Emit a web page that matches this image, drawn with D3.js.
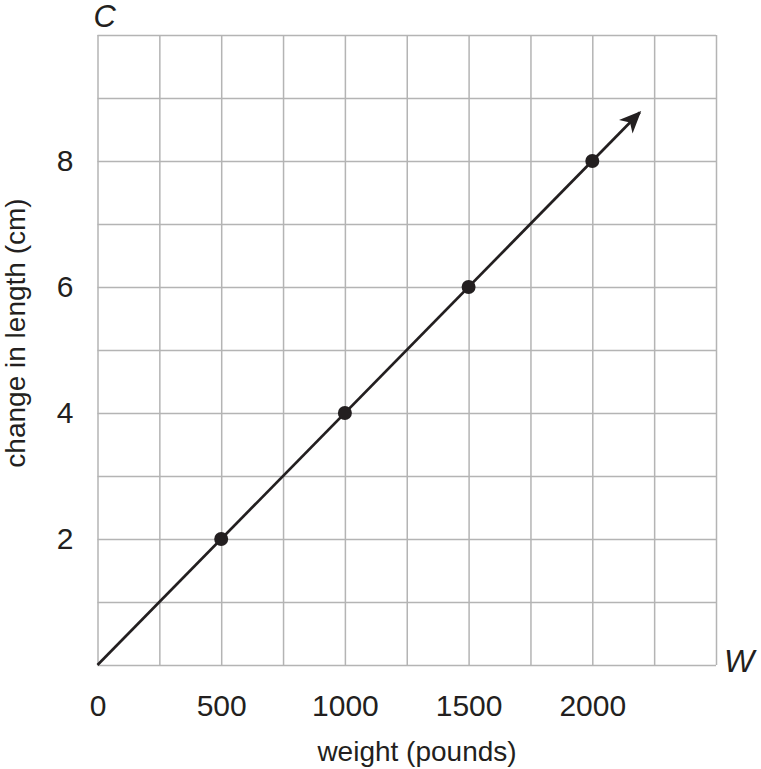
<!DOCTYPE html>
<html>
<head>
<meta charset="utf-8">
<script src="https://cdn.jsdelivr.net/npm/d3@7"></script>
<style>
  body { margin: 0; background: #fff; }
  svg { display: block; font-family: "Liberation Sans", Arial, Helvetica, sans-serif; }
  .grid line { stroke: #b4b4b4; stroke-width: 1.5; }
  .grid .domain { display: none; }
  .ticks .domain { display: none; }
  .ticks text { font-size: 30px; fill: #231f20; }
</style>
</head>
<body>
<div id="chart"></div>
<script>
// weight (pounds) vs change in length (cm)
var xGrid = [0, 250, 500, 750, 1000, 1250, 1500, 1750, 2000, 2250, 2500];
var yGrid = [0, 1, 2, 3, 4, 5, 6, 7, 8, 9, 10];
var xLabels = [0, 500, 1000, 1500, 2000];
var yLabels = [2, 4, 6, 8];
var weights = [500, 1000, 1500, 2000];
var changes = [2, 4, 6, 8];
// line from origin, ends in an arrow
var lineX = [0, 2192];
var lineY = [0, 8.77];

var width = 761,
  height = 769,
  margin = { top: 35, right: 45, bottom: 104, left: 97.5 };

var svg = d3.select("#chart").append("svg")
  .attr("width", width)
  .attr("height", height);

var x = d3.scaleLinear().domain([0, 2500]).range([margin.left, width - margin.right]);
var y = d3.scaleLinear().domain([0, 10]).range([height - margin.bottom, margin.top]);

svg.append("defs").append("marker")
  .attr("id", "arrow")
  .attr("markerUnits", "userSpaceOnUse")
  .attr("viewBox", "-24 -11 26 22")
  .attr("markerWidth", 26)
  .attr("markerHeight", 22)
  .attr("refX", -2)
  .attr("refY", 0)
  .attr("orient", "auto")
  .append("path")
  .attr("d", "M0,0L-22,-9.5L-16,0L-22,9.5Z")
  .attr("fill", "#231f20");

// grid
svg.append("g")
  .attr("class", "grid")
  .attr("transform", "translate(0," + y(0) + ")")
  .call(d3.axisBottom(x).tickValues(xGrid).tickSize(-(y(0) - y(10))).tickFormat(""));

svg.append("g")
  .attr("class", "grid")
  .attr("transform", "translate(" + x(0) + ",0)")
  .call(d3.axisLeft(y).tickValues(yGrid).tickSize(-(x(2500) - x(0))).tickFormat(""));

// tick labels
svg.append("g")
  .attr("class", "ticks")
  .attr("transform", "translate(0," + y(0) + ")")
  .call(d3.axisBottom(x).tickValues(xLabels).tickSize(0).tickPadding(30).tickFormat(d3.format("d")));

svg.append("g")
  .attr("class", "ticks")
  .attr("transform", "translate(" + x(0) + ",0)")
  .call(d3.axisLeft(y).tickValues(yLabels).tickSize(0).tickPadding(24));

// line
var line = d3.line()
  .x(function(d) { return x(d[0]); })
  .y(function(d) { return y(d[1]); });

svg.append("path")
  .datum(d3.zip(lineX, lineY))
  .attr("d", line)
  .attr("fill", "none")
  .attr("stroke", "#231f20")
  .attr("stroke-width", 2.7)
  .attr("marker-end", "url(#arrow)");

svg.selectAll("circle.pt")
  .data(d3.zip(weights, changes))
  .enter().append("circle")
  .attr("class", "pt")
  .attr("cx", function(d) { return x(d[0]); })
  .attr("cy", function(d) { return y(d[1]); })
  .attr("r", 7)
  .attr("fill", "#231f20");

// axis variable letters
svg.append("text")
  .attr("x", x(0) - 4)
  .attr("y", 27)
  .attr("font-size", 31)
  .attr("font-style", "italic")
  .attr("fill", "#231f20")
  .text("C");

svg.append("text")
  .attr("x", x(2500) + 8)
  .attr("y", 672)
  .attr("font-size", 32)
  .attr("font-style", "italic")
  .attr("fill", "#231f20")
  .text("W");

// axis titles
svg.append("text")
  .attr("x", 417)
  .attr("y", 761)
  .attr("text-anchor", "middle")
  .attr("font-size", 28)
  .attr("fill", "#231f20")
  .text("weight (pounds)");

svg.append("text")
  .attr("transform", "translate(25,333) rotate(-90)")
  .attr("text-anchor", "middle")
  .attr("font-size", 28)
  .attr("fill", "#231f20")
  .text("change in length (cm)");
</script>
</body>
</html>
